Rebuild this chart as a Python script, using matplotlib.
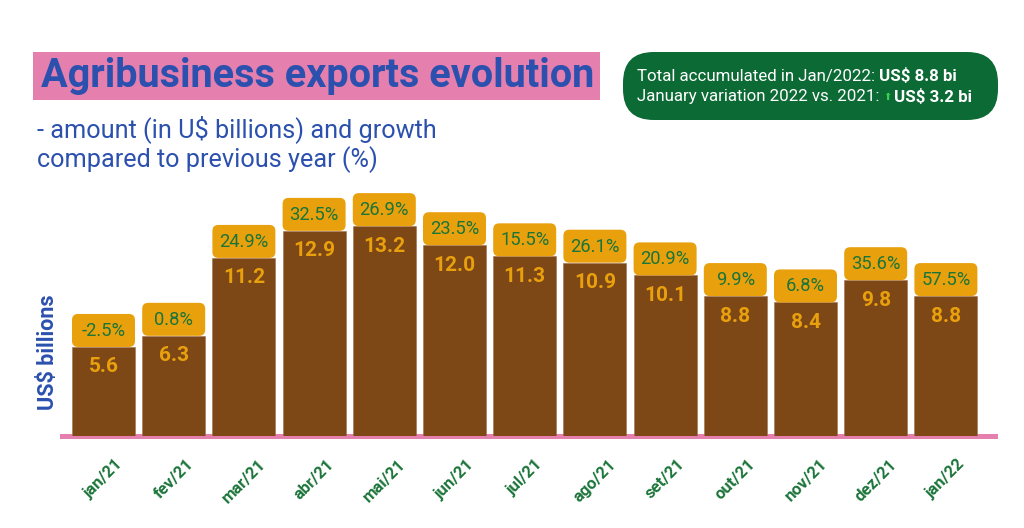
import matplotlib
matplotlib.use("Agg")
import matplotlib.pyplot as plt
from matplotlib.patches import FancyBboxPatch, Rectangle

months = ["jan/21", "fev/21", "mar/21", "abr/21", "mai/21", "jun/21", "jul/21",
          "ago/21", "set/21", "out/21", "nov/21", "dez/21", "jan/22"]
values = [5.6, 6.3, 11.2, 12.9, 13.2, 12.0, 11.3, 10.9, 10.1, 8.8, 8.4, 9.8, 8.8]
growth = [-2.5, 0.8, 24.9, 32.5, 26.9, 23.5, 15.5, 26.1, 20.9, 9.9, 6.8, 35.6, 57.5]

title = "Agribusiness exports evolution"
subtitle = "- amount (in U$ billions) and growth\ncompared to previous year (%)"
ylabel = "US$ billions"
info_regular = ["Total accumulated in Jan/2022: ", "January variation 2022 vs. 2021: "]
info_bold = ["US$ 8.8 bi", "US$ 3.2 bi"]

BROWN = "#7e4716"
ORANGE = "#e9a00d"
GREEN_TXT = "#1b7439"
PINK = "#e57fae"
BLUE = "#2b50ae"
DARKGREEN = "#0c6a35"

plt.rcParams['font.family'] = ['Roboto', 'DejaVu Sans']

W, H = 1024, 528
fig = plt.figure(figsize=(W / 100, H / 100), dpi=100)
fig.patch.set_facecolor("white")

ax_left, ax_right, ax_bottom, ax_top = 62, 995, 92, 348
ax = fig.add_axes([ax_left / W, ax_bottom / H, (ax_right - ax_left) / W, (ax_top - ax_bottom) / H])
pitch = 70.2
ppu = 15.9
x0 = -(103.5 - ax_left) / pitch
ax.set_xlim(x0, x0 + (ax_right - ax_left) / pitch)
ax.set_ylim(0, (ax_top - ax_bottom) / ppu)

xs = list(range(len(months)))
bw = 63 / pitch
ax.bar(xs, values, width=bw, color=BROWN, zorder=3, edgecolor="#a07050", linewidth=0.4)

box_h = 33 / ppu
r_x = 6 / pitch
aspect = pitch / ppu
for x, v, g in zip(xs, values, growth):
    p = FancyBboxPatch((x - bw / 2, v), bw, box_h,
                       boxstyle=f"round,pad=0,rounding_size={r_x}",
                       mutation_aspect=aspect, facecolor=ORANGE, edgecolor="none",
                       zorder=4, clip_on=False)
    ax.add_patch(p)
    ax.text(x, v + 16 / ppu, f"{g:.1f}%", ha="center", va="center",
            color=GREEN_TXT, fontsize=13.2, fontweight="normal", zorder=5)
    ax.text(x, v - 20 / ppu, f"{v:.1f}", ha="center", va="center",
            color=ORANGE, fontsize=15, fontweight="bold", zorder=5)

for s in ["top", "right", "left"]:
    ax.spines[s].set_visible(False)
ax.spines["bottom"].set_color(PINK)
ax.spines["bottom"].set_linewidth(3.6)
ax.spines["bottom"].set_zorder(2)
ax.set_yticks([])
ax.set_xticks(xs)
ax.set_xticklabels(months, rotation=45, ha="center", va="top",
                   color=GREEN_TXT, fontsize=12, fontweight="bold")
ax.tick_params(axis="x", length=0, pad=15)
ax.patch.set_alpha(0)

fig.text(48 / W, 1 - 352 / H, ylabel, rotation=90, ha="center", va="center",
         color=BLUE, fontsize=15.5, fontweight="bold")

fig.patches.append(Rectangle((33 / W, 1 - 100 / H), (600 - 33) / W, 48 / H,
                             transform=fig.transFigure, facecolor=PINK, edgecolor="none"))
fig.text(318 / W, 1 - 76 / H, title, ha="center", va="center", color=BLUE,
         fontsize=28.5, fontweight="bold")
fig.text(37 / W, 1 - 144 / H, subtitle, ha="left", va="center", color=BLUE,
         fontsize=18.2, linespacing=1.12)

gb = FancyBboxPatch((623 / W, 1 - 120 / H), (998 - 623) / W, 68 / H,
                    boxstyle="round,pad=0,rounding_size=0.03",
                    mutation_aspect=W / H,
                    transform=fig.transFigure, facecolor=DARKGREEN, edgecolor="none")
fig.patches.append(gb)

fig.canvas.draw()
renderer = fig.canvas.get_renderer()
ys = [76, 97]
for i, (reg, bold) in enumerate(zip(info_regular, info_bold)):
    t = fig.text(637 / W, 1 - ys[i] / H, reg, ha="left", va="center", color="white",
                 fontsize=12.2)
    bb = t.get_window_extent(renderer)
    xnext = bb.x1
    if i == 1:
        fig.text(xnext / W, 1 - ys[i] / H, "\u2B06", ha="left", va="center",
                 color="#3ad14a", fontsize=7, family=["DejaVu Sans"])
        xnext += 10
    fig.text(xnext / W, 1 - ys[i] / H, bold, ha="left", va="center", color="white",
             fontsize=12.2, fontweight="bold")

fig.savefig("out.png", dpi=100, facecolor="white")
